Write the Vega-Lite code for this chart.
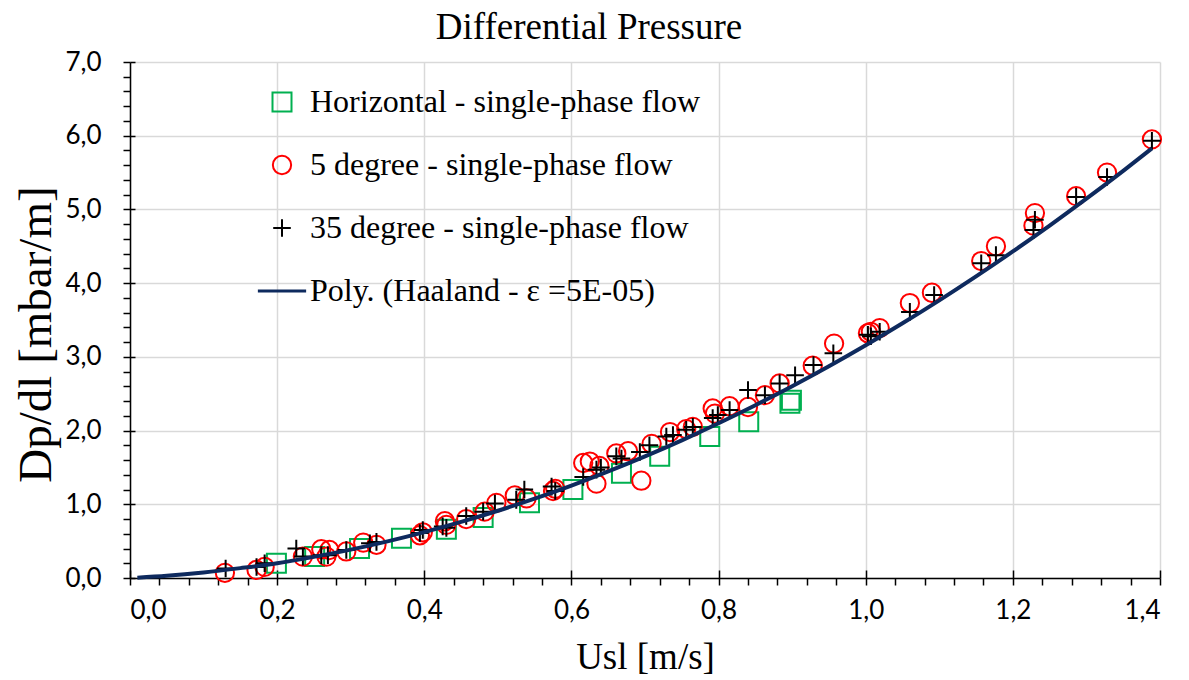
{
  "$schema": "https://vega.github.io/schema/vega-lite/v6.json",
  "width": 1030,
  "height": 516,
  "autosize": {"type": "none"},
  "padding": {"left": 130, "top": 62, "right": 29, "bottom": 102},
  "background": "white",
  "title": {"text": "Differential Pressure", "font": "Liberation Serif", "fontSize": 37, "fontWeight": "normal", "color": "black", "anchor": "middle", "frame": "bounds", "offset": 16, "dy": 14},
  "config": {"view": {"stroke": null}},
  "datasets": {
    "pts": [
      {"series": "Horizontal - single-phase flow", "usl": 0.199, "dp": 0.20},
      {"series": "Horizontal - single-phase flow", "usl": 0.251, "dp": 0.29},
      {"series": "Horizontal - single-phase flow", "usl": 0.312, "dp": 0.40},
      {"series": "Horizontal - single-phase flow", "usl": 0.369, "dp": 0.54},
      {"series": "Horizontal - single-phase flow", "usl": 0.43, "dp": 0.66},
      {"series": "Horizontal - single-phase flow", "usl": 0.48, "dp": 0.82},
      {"series": "Horizontal - single-phase flow", "usl": 0.543, "dp": 1.02},
      {"series": "Horizontal - single-phase flow", "usl": 0.602, "dp": 1.20},
      {"series": "Horizontal - single-phase flow", "usl": 0.668, "dp": 1.42},
      {"series": "Horizontal - single-phase flow", "usl": 0.72, "dp": 1.65},
      {"series": "Horizontal - single-phase flow", "usl": 0.788, "dp": 1.92},
      {"series": "Horizontal - single-phase flow", "usl": 0.841, "dp": 2.12},
      {"series": "Horizontal - single-phase flow", "usl": 0.897, "dp": 2.37},
      {"series": "Horizontal - single-phase flow", "usl": 0.899, "dp": 2.41},
      {"series": "5 degree - single-phase flow", "usl": 0.129, "dp": 0.07},
      {"series": "5 degree - single-phase flow", "usl": 0.172, "dp": 0.11},
      {"series": "5 degree - single-phase flow", "usl": 0.183, "dp": 0.15},
      {"series": "5 degree - single-phase flow", "usl": 0.235, "dp": 0.29},
      {"series": "5 degree - single-phase flow", "usl": 0.26, "dp": 0.39},
      {"series": "5 degree - single-phase flow", "usl": 0.271, "dp": 0.38},
      {"series": "5 degree - single-phase flow", "usl": 0.267, "dp": 0.29},
      {"series": "5 degree - single-phase flow", "usl": 0.294, "dp": 0.36},
      {"series": "5 degree - single-phase flow", "usl": 0.317, "dp": 0.48},
      {"series": "5 degree - single-phase flow", "usl": 0.335, "dp": 0.45},
      {"series": "5 degree - single-phase flow", "usl": 0.394, "dp": 0.58},
      {"series": "5 degree - single-phase flow", "usl": 0.398, "dp": 0.62},
      {"series": "5 degree - single-phase flow", "usl": 0.428, "dp": 0.77},
      {"series": "5 degree - single-phase flow", "usl": 0.43, "dp": 0.72},
      {"series": "5 degree - single-phase flow", "usl": 0.457, "dp": 0.80},
      {"series": "5 degree - single-phase flow", "usl": 0.482, "dp": 0.90},
      {"series": "5 degree - single-phase flow", "usl": 0.498, "dp": 1.02},
      {"series": "5 degree - single-phase flow", "usl": 0.523, "dp": 1.12},
      {"series": "5 degree - single-phase flow", "usl": 0.539, "dp": 1.08},
      {"series": "5 degree - single-phase flow", "usl": 0.575, "dp": 1.18},
      {"series": "5 degree - single-phase flow", "usl": 0.578, "dp": 1.21},
      {"series": "5 degree - single-phase flow", "usl": 0.616, "dp": 1.56},
      {"series": "5 degree - single-phase flow", "usl": 0.625, "dp": 1.58},
      {"series": "5 degree - single-phase flow", "usl": 0.634, "dp": 1.28},
      {"series": "5 degree - single-phase flow", "usl": 0.638, "dp": 1.52},
      {"series": "5 degree - single-phase flow", "usl": 0.661, "dp": 1.69},
      {"series": "5 degree - single-phase flow", "usl": 0.677, "dp": 1.72},
      {"series": "5 degree - single-phase flow", "usl": 0.695, "dp": 1.32},
      {"series": "5 degree - single-phase flow", "usl": 0.709, "dp": 1.82},
      {"series": "5 degree - single-phase flow", "usl": 0.734, "dp": 1.98},
      {"series": "5 degree - single-phase flow", "usl": 0.756, "dp": 2.02},
      {"series": "5 degree - single-phase flow", "usl": 0.765, "dp": 2.05},
      {"series": "5 degree - single-phase flow", "usl": 0.792, "dp": 2.30},
      {"series": "5 degree - single-phase flow", "usl": 0.795, "dp": 2.23},
      {"series": "5 degree - single-phase flow", "usl": 0.815, "dp": 2.33},
      {"series": "5 degree - single-phase flow", "usl": 0.84, "dp": 2.32},
      {"series": "5 degree - single-phase flow", "usl": 0.863, "dp": 2.48},
      {"series": "5 degree - single-phase flow", "usl": 0.883, "dp": 2.64},
      {"series": "5 degree - single-phase flow", "usl": 0.928, "dp": 2.88},
      {"series": "5 degree - single-phase flow", "usl": 0.957, "dp": 3.18},
      {"series": "5 degree - single-phase flow", "usl": 1.003, "dp": 3.32},
      {"series": "5 degree - single-phase flow", "usl": 1.007, "dp": 3.34},
      {"series": "5 degree - single-phase flow", "usl": 1.019, "dp": 3.39},
      {"series": "5 degree - single-phase flow", "usl": 1.06, "dp": 3.73},
      {"series": "5 degree - single-phase flow", "usl": 1.09, "dp": 3.87},
      {"series": "5 degree - single-phase flow", "usl": 1.157, "dp": 4.30},
      {"series": "5 degree - single-phase flow", "usl": 1.177, "dp": 4.50},
      {"series": "5 degree - single-phase flow", "usl": 1.228, "dp": 4.78},
      {"series": "5 degree - single-phase flow", "usl": 1.23, "dp": 4.95},
      {"series": "5 degree - single-phase flow", "usl": 1.286, "dp": 5.18},
      {"series": "5 degree - single-phase flow", "usl": 1.328, "dp": 5.50},
      {"series": "5 degree - single-phase flow", "usl": 1.389, "dp": 5.95},
      {"series": "35 degree - single-phase flow", "usl": 0.13, "dp": 0.13},
      {"series": "35 degree - single-phase flow", "usl": 0.172, "dp": 0.15},
      {"series": "35 degree - single-phase flow", "usl": 0.183, "dp": 0.20},
      {"series": "35 degree - single-phase flow", "usl": 0.226, "dp": 0.40},
      {"series": "35 degree - single-phase flow", "usl": 0.235, "dp": 0.29},
      {"series": "35 degree - single-phase flow", "usl": 0.26, "dp": 0.31},
      {"series": "35 degree - single-phase flow", "usl": 0.269, "dp": 0.31},
      {"series": "35 degree - single-phase flow", "usl": 0.294, "dp": 0.38},
      {"series": "35 degree - single-phase flow", "usl": 0.326, "dp": 0.47},
      {"series": "35 degree - single-phase flow", "usl": 0.335, "dp": 0.49},
      {"series": "35 degree - single-phase flow", "usl": 0.394, "dp": 0.61},
      {"series": "35 degree - single-phase flow", "usl": 0.398, "dp": 0.65},
      {"series": "35 degree - single-phase flow", "usl": 0.425, "dp": 0.70},
      {"series": "35 degree - single-phase flow", "usl": 0.43, "dp": 0.68},
      {"series": "35 degree - single-phase flow", "usl": 0.457, "dp": 0.84},
      {"series": "35 degree - single-phase flow", "usl": 0.48, "dp": 0.90},
      {"series": "35 degree - single-phase flow", "usl": 0.496, "dp": 1.01},
      {"series": "35 degree - single-phase flow", "usl": 0.525, "dp": 1.06},
      {"series": "35 degree - single-phase flow", "usl": 0.536, "dp": 1.20},
      {"series": "35 degree - single-phase flow", "usl": 0.573, "dp": 1.24},
      {"series": "35 degree - single-phase flow", "usl": 0.578, "dp": 1.18},
      {"series": "35 degree - single-phase flow", "usl": 0.616, "dp": 1.37},
      {"series": "35 degree - single-phase flow", "usl": 0.634, "dp": 1.47},
      {"series": "35 degree - single-phase flow", "usl": 0.64, "dp": 1.50},
      {"series": "35 degree - single-phase flow", "usl": 0.661, "dp": 1.65},
      {"series": "35 degree - single-phase flow", "usl": 0.668, "dp": 1.62},
      {"series": "35 degree - single-phase flow", "usl": 0.693, "dp": 1.71},
      {"series": "35 degree - single-phase flow", "usl": 0.706, "dp": 1.80},
      {"series": "35 degree - single-phase flow", "usl": 0.729, "dp": 1.92},
      {"series": "35 degree - single-phase flow", "usl": 0.738, "dp": 1.94},
      {"series": "35 degree - single-phase flow", "usl": 0.756, "dp": 2.01},
      {"series": "35 degree - single-phase flow", "usl": 0.765, "dp": 2.05},
      {"series": "35 degree - single-phase flow", "usl": 0.792, "dp": 2.17},
      {"series": "35 degree - single-phase flow", "usl": 0.799, "dp": 2.21},
      {"series": "35 degree - single-phase flow", "usl": 0.815, "dp": 2.28},
      {"series": "35 degree - single-phase flow", "usl": 0.84, "dp": 2.55},
      {"series": "35 degree - single-phase flow", "usl": 0.863, "dp": 2.48},
      {"series": "35 degree - single-phase flow", "usl": 0.883, "dp": 2.64},
      {"series": "35 degree - single-phase flow", "usl": 0.904, "dp": 2.75},
      {"series": "35 degree - single-phase flow", "usl": 0.929, "dp": 2.89},
      {"series": "35 degree - single-phase flow", "usl": 0.956, "dp": 3.05},
      {"series": "35 degree - single-phase flow", "usl": 1.003, "dp": 3.30},
      {"series": "35 degree - single-phase flow", "usl": 1.007, "dp": 3.28},
      {"series": "35 degree - single-phase flow", "usl": 1.019, "dp": 3.34},
      {"series": "35 degree - single-phase flow", "usl": 1.06, "dp": 3.61},
      {"series": "35 degree - single-phase flow", "usl": 1.093, "dp": 3.84},
      {"series": "35 degree - single-phase flow", "usl": 1.157, "dp": 4.27},
      {"series": "35 degree - single-phase flow", "usl": 1.177, "dp": 4.38},
      {"series": "35 degree - single-phase flow", "usl": 1.228, "dp": 4.72},
      {"series": "35 degree - single-phase flow", "usl": 1.23, "dp": 4.86},
      {"series": "35 degree - single-phase flow", "usl": 1.286, "dp": 5.17},
      {"series": "35 degree - single-phase flow", "usl": 1.328, "dp": 5.44},
      {"series": "35 degree - single-phase flow", "usl": 1.389, "dp": 5.93}
    ],
    "poly": [
      {"usl": 0.01, "dp": 0.005},
      {"usl": 0.05, "dp": 0.031},
      {"usl": 0.10, "dp": 0.076},
      {"usl": 0.15, "dp": 0.134},
      {"usl": 0.20, "dp": 0.200},
      {"usl": 0.25, "dp": 0.287},
      {"usl": 0.30, "dp": 0.385},
      {"usl": 0.35, "dp": 0.497},
      {"usl": 0.40, "dp": 0.623},
      {"usl": 0.45, "dp": 0.761},
      {"usl": 0.50, "dp": 0.912},
      {"usl": 0.55, "dp": 1.077},
      {"usl": 0.60, "dp": 1.254},
      {"usl": 0.65, "dp": 1.446},
      {"usl": 0.70, "dp": 1.650},
      {"usl": 0.75, "dp": 1.868},
      {"usl": 0.80, "dp": 2.100},
      {"usl": 0.85, "dp": 2.344},
      {"usl": 0.90, "dp": 2.602},
      {"usl": 0.95, "dp": 2.873},
      {"usl": 1.00, "dp": 3.158},
      {"usl": 1.05, "dp": 3.456},
      {"usl": 1.10, "dp": 3.767},
      {"usl": 1.15, "dp": 4.092},
      {"usl": 1.20, "dp": 4.430},
      {"usl": 1.25, "dp": 4.781},
      {"usl": 1.30, "dp": 5.146},
      {"usl": 1.35, "dp": 5.524},
      {"usl": 1.389, "dp": 5.828}
    ]
  },
  "layer": [
    {
      "data": {"name": "pts"},
      "transform": [{"filter": "datum.series === 'Horizontal - single-phase flow'"}],
      "mark": {"type": "point", "filled": false, "strokeWidth": 2, "opacity": 1},
      "encoding": {
        "x": {"field": "usl", "type": "quantitative", "scale": {"domain": [0, 1.4], "nice": false},
          "axis": {"orient": "bottom", "values": [0, 0.2, 0.4, 0.6, 0.8, 1.0, 1.2, 1.4], "labelExpr": "replace(format(datum.value, '.1f'), '.', ',')",
            "grid": true, "gridColor": "#d9d9d9", "gridWidth": 1.5, "domainColor": "black", "domainWidth": 1.5,
            "tickColor": "black", "tickSize": 7, "tickWidth": 1.5, "labelFont": "Lato", "labelFontSize": 26, "labelColor": "black", "labelPadding": 12,
            "title": "Usl [m/s]", "titleFont": "Liberation Serif", "titleFontSize": 37, "titleFontWeight": "normal", "titleColor": "black", "titlePadding": 16}},
        "y": {"field": "dp", "type": "quantitative", "scale": {"domain": [0, 7], "nice": false},
          "axis": {"orient": "left", "values": [0, 1, 2, 3, 4, 5, 6, 7], "labelExpr": "replace(format(datum.value, '.1f'), '.', ',')",
            "grid": true, "gridColor": "#d9d9d9", "gridWidth": 1.5, "domainColor": "black", "domainWidth": 1.5,
            "tickColor": "black", "tickSize": 7, "tickWidth": 1.5, "labelFont": "Lato", "labelFontSize": 26, "labelColor": "black", "labelPadding": 22,
            "title": "Dp/dl [mbar/m]", "titleFont": "Liberation Serif", "titleFontSize": 47, "titleFontWeight": "normal", "titleColor": "black", "titlePadding": 4, "titleY": 272}},
        "color": {"field": "series", "type": "nominal",
          "scale": {"domain": ["Horizontal - single-phase flow", "5 degree - single-phase flow", "35 degree - single-phase flow", "Poly. (Haaland - ε =5E-05)"], "range": ["#00b050", "#ff0000", "#000000", "#0e2a5e"]},
          "legend": {"orient": "none", "legendX": 136, "legendY": 24, "title": null, "labelFont": "Liberation Serif", "labelFontSize": 32, "labelColor": "black", "labelOffset": 12, "rowPadding": 31, "symbolSize": 330, "symbolStrokeWidth": 2, "padding": 0, "labelLimit": 600}},
        "shape": {"field": "series", "type": "nominal",
          "scale": {"domain": ["Horizontal - single-phase flow", "5 degree - single-phase flow", "35 degree - single-phase flow", "Poly. (Haaland - ε =5E-05)"], "range": ["square", "circle", "M-1,0H1M0,-1V1", "M-2.75,-0.06H2.75V0.06H-2.75Z"]}},
        "size": {"field": "series", "type": "nominal", "legend": null,
          "scale": {"domain": ["Horizontal - single-phase flow", "5 degree - single-phase flow", "35 degree - single-phase flow", "Poly. (Haaland - ε =5E-05)"], "range": [361, 283, 441, 330]}}
      }
    },
    {
      "data": {"name": "pts"},
      "transform": [{"filter": "datum.series !== 'Horizontal - single-phase flow'"}],
      "mark": {"type": "point", "filled": false, "strokeWidth": 2, "opacity": 1},
      "encoding": {
        "x": {"field": "usl", "type": "quantitative",
          "axis": {"orient": "bottom", "values": [0.04, 0.08, 0.12, 0.16, 0.24, 0.28, 0.32, 0.36, 0.44, 0.48, 0.52, 0.56, 0.64, 0.68, 0.72, 0.76, 0.84, 0.88, 0.92, 0.96, 1.04, 1.08, 1.12, 1.16, 1.24, 1.28, 1.32, 1.36],
            "labels": false, "grid": false, "domain": false, "tickColor": "black", "tickSize": 7, "tickWidth": 1.5, "title": null}},
        "y": {"field": "dp", "type": "quantitative",
          "axis": {"orient": "left", "values": [0.2, 0.4, 0.6, 0.8, 1.2, 1.4, 1.6, 1.8, 2.2, 2.4, 2.6, 2.8, 3.2, 3.4, 3.6, 3.8, 4.2, 4.4, 4.6, 4.8, 5.2, 5.4, 5.6, 5.8, 6.2, 6.4, 6.6, 6.8],
            "labels": false, "grid": false, "domain": false, "tickColor": "black", "tickSize": 7, "tickWidth": 1.5, "title": null}},
        "color": {"field": "series", "type": "nominal"},
        "shape": {"field": "series", "type": "nominal"},
        "size": {"field": "series", "type": "nominal", "legend": null}
      }
    },
    {
      "data": {"name": "poly"},
      "mark": {"type": "line", "color": "#0e2a5e", "strokeWidth": 4, "interpolate": "monotone"},
      "encoding": {
        "x": {"field": "usl", "type": "quantitative",
          "axis": {"orient": "bottom", "offset": -8, "values": [0, 0.2, 0.4, 0.6, 0.8, 1.0, 1.2, 1.4],
            "labels": false, "grid": false, "domain": false, "tickColor": "black", "tickSize": 8, "tickWidth": 1.5, "title": null}},
        "y": {"field": "dp", "type": "quantitative",
          "axis": {"orient": "left", "offset": -5, "values": [0, 1, 2, 3, 4, 5, 6, 7],
            "labels": false, "grid": false, "domain": false, "tickColor": "black", "tickSize": 5, "tickWidth": 1.5, "title": null}}
      }
    }
  ],
  "resolve": {"axis": {"x": "independent", "y": "independent"}}
}
